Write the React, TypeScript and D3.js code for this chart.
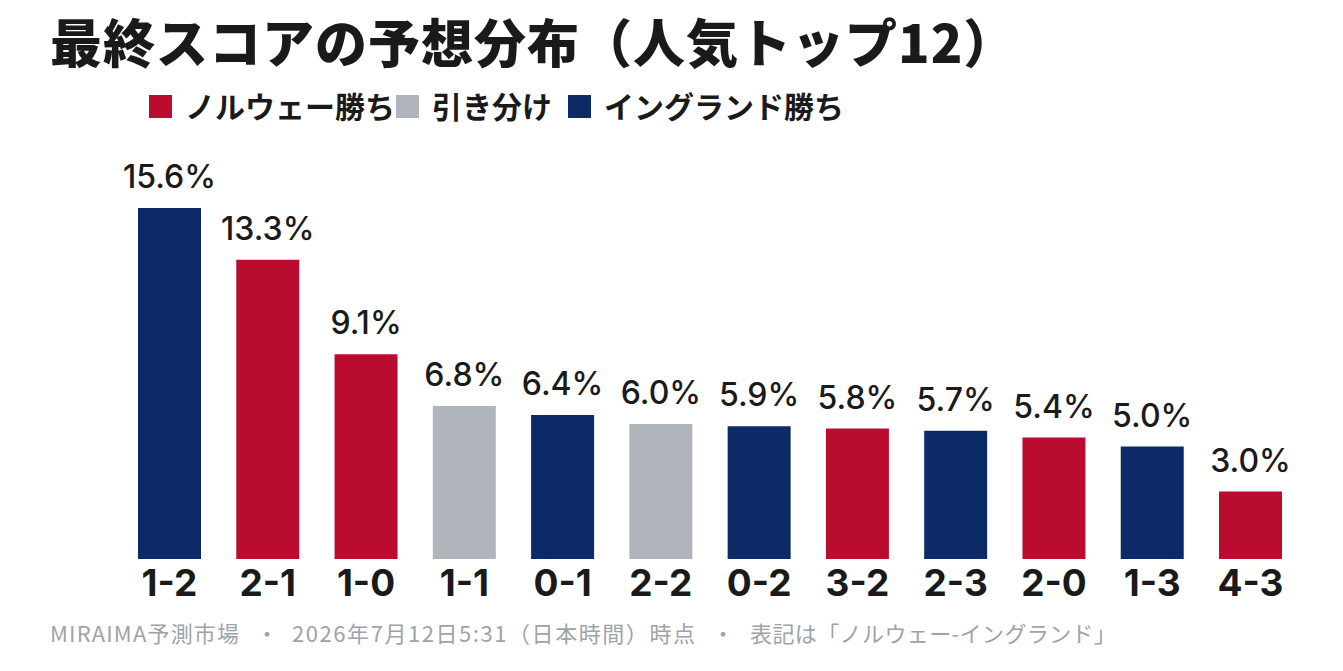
import { useEffect } from 'react';
import * as d3 from 'd3';

// スコア表記は「ノルウェー-イングランド」
const scores = ['1-2', '2-1', '1-0', '1-1', '0-1', '2-2', '0-2', '3-2', '2-3', '2-0', '1-3', '4-3'];
const probs = [15.6, 13.3, 9.1, 6.8, 6.4, 6.0, 5.9, 5.8, 5.7, 5.4, 5.0, 3.0];

const outcomes = ['norway', 'draw', 'england'];
const outcomeLabels = ['ノルウェー勝ち', '引き分け', 'イングランド勝ち'];
const outcomeColors = ['#ba0c2f', '#b0b4bb', '#0b2a66'];

const title = '最終スコアの予想分布（人気トップ12）';
const footParts = ['MIRAIMA予測市場', '2026年7月12日5:31（日本時間）時点', '表記は「ノルウェー-イングランド」'];

const W = 1343;
const H = 671;
const legendX = [149, 396, 568];
// footer layout: start x and width of each part, centre x of the separator dots
const footX = [50, 292, 750];
const footW = [189, 403, 366];
const footDots = [267, 723];

function outcomeOf(score: string) {
  const [a, b] = score.split('-').map(Number);
  return a > b ? 'norway' : a === b ? 'draw' : 'england';
}

export default function App() {
  useEffect(() => {
    document.body.style.margin = '0';
  }, []);

  const x = d3
    .scaleBand()
    .domain(scores)
    .range([138, 1282])
    .paddingInner(0.359)
    .paddingOuter(0);

  const y = d3.scaleLinear().domain([0, 16]).range([559, 199]);

  const color = d3.scaleOrdinal<string, string>().domain(outcomes).range(outcomeColors);

  const cjk = '"Noto Sans CJK JP", "Noto Sans", sans-serif';
  const latin = 'Inter, "Noto Sans", sans-serif';
  const foot = '"Noto Sans CJK JP", "Liberation Sans", sans-serif';

  return (
    <svg width={W} height={H} style={{ display: 'block', background: '#fff' }}>
      <text x={50} y={63} fontFamily={cjk} fontWeight={900} fontSize={52} letterSpacing={1} fill="#1a1a1a">
        {title}
      </text>

      {outcomes.map((o, i) => (
        <g key={o}>
          <rect x={legendX[i]} y={95} width={23} height={23} fill={color(o)} />
          <text x={legendX[i] + 36} y={118} fontFamily={cjk} fontWeight={700} fontSize={30} fill="#1a1a1a">
            {outcomeLabels[i]}
          </text>
        </g>
      ))}

      {scores.map((s, i) => (
        <g key={s}>
          <rect
            x={x(s)}
            y={y(probs[i])}
            width={x.bandwidth()}
            height={y(0) - y(probs[i])}
            fill={color(outcomeOf(s))}
          />
          <text
            x={(x(s) || 0) + x.bandwidth() / 2}
            y={y(probs[i]) - 20}
            textAnchor="middle"
            fontFamily={latin}
            fontWeight={500}
            fontSize={32}
            fill="#1a1a1a"
          >
            {probs[i].toFixed(1)}%
          </text>
          <text
            x={(x(s) || 0) + x.bandwidth() / 2}
            y={596}
            textAnchor="middle"
            fontFamily={latin}
            fontWeight={700}
            fontSize={37}
            fill="#1a1a1a"
          >
            {s}
          </text>
        </g>
      ))}

      <g fontFamily={foot} fontWeight={400} fontSize={22} fill="#9ea3aa">
        {footParts.map((p, i) => (
          <text key={p} x={footX[i]} y={642} textLength={footW[i]} lengthAdjust="spacing">
            {p}
          </text>
        ))}
        {footDots.map((d) => (
          <text key={d} x={d} y={642} textAnchor="middle">
            ・
          </text>
        ))}
      </g>
    </svg>
  );
}
